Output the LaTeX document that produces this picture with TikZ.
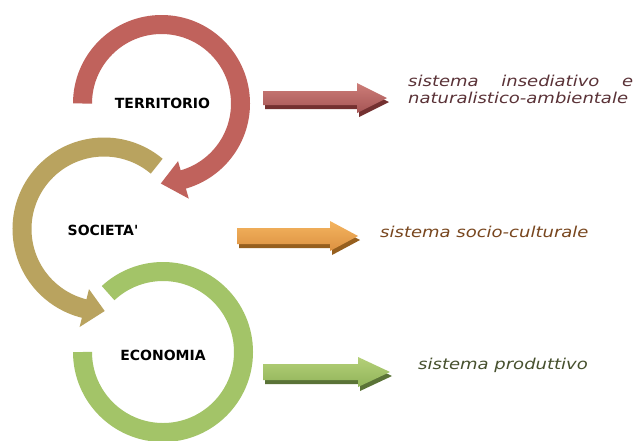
\documentclass[tikz,border=0pt]{standalone}
\usepackage{fontspec}
\setmainfont{DejaVu Sans}
\usetikzlibrary{calc}
\definecolor{arcred}{RGB}{192,98,92}
\definecolor{arcolive}{RGB}{185,163,95}
\definecolor{arcgreen}{RGB}{163,196,104}
\definecolor{arlred}{RGB}{205,125,120}
\definecolor{armred}{RGB}{165,85,85}
\definecolor{arsred}{RGB}{115,48,48}
\definecolor{arlor}{RGB}{244,180,95}
\definecolor{armor}{RGB}{220,145,65}
\definecolor{arsor}{RGB}{150,95,30}
\definecolor{arlgr}{RGB}{180,208,120}
\definecolor{armgr}{RGB}{145,180,90}
\definecolor{arsgr}{RGB}{90,115,55}
\definecolor{txred}{RGB}{90,50,55}
\definecolor{txor}{RGB}{120,70,30}
\definecolor{txgr}{RGB}{70,80,45}
\tikzset{
  ring/.style={line width=19pt, line cap=butt},
  circlabel/.style={font=\bfseries\fontsize{14}{16}\selectfont, inner sep=0pt, anchor=center},
  syslabel/.style={font=\itshape\fontsize{15}{18}\selectfont, inner sep=0pt, anchor=base west, xscale=1.2}
}
\newcommand{\blockarr}[9]{%
  \fill[#9] ($(#1,#4-#5)+(2,4)$) -- ($(#2,#4-#5)+(2,4)$) -- ($(#2,#4-#6)+(2,4)$) -- ($(#3,#4)+(2,4)$)
     -- ($(#2,#4+#6)+(2,4)$) -- ($(#2,#4+#5)+(2,4)$) -- ($(#1,#4+#5)+(2,4)$) -- cycle;
  \shade[top color=#7, bottom color=#8] (#1,#4-#5) -- (#2,#4-#5) -- (#2,#4-#6) -- (#3,#4)
     -- (#2,#4+#6) -- (#2,#4+#5) -- (#1,#4+#5) -- cycle;
}
\begin{document}
\begin{tikzpicture}[x=1pt,y=-1pt]
\useasboundingbox[fill=white] (0,0) rectangle (636,440);
\coordinate (rc) at (161.5,103.5);
\coordinate (oc) at (104,229);
\coordinate (gc) at (163,352);
\draw[ring, arcgreen] ($(gc)+(180:80.5)$) arc[start angle=180, end angle=-133, radius=80.5];
\draw[ring, arcolive] ($(oc)+(-50:82)$) arc[start angle=-50, end angle=-258, radius=82];
\fill[arcolive] ($(oc)+(-256:62)$) -- ($(oc)+(-270.5:82)$) -- ($(oc)+(-256:101)$) -- cycle;
\draw[ring, arcred] ($(rc)+(180:79)$) arc[start angle=180, end angle=436, radius=79];
\fill[arcred] ($(rc)+(434:60)$) -- ($(rc)+(450.5:80)$) -- ($(rc)+(434:99)$) -- cycle;
\node[circlabel] (ter) at (162.5,103) {TERRITORIO};
\node[circlabel] (soc) at (103,230) {SOCIETA\textquotesingle};
\node[circlabel] (eco) at (163,355) {ECONOMIA};
\blockarr{263}{357}{387}{98}{7}{15}{arlred}{armred}{arsred}
\blockarr{237}{330}{358}{236}{8}{15}{arlor}{armor}{arsor}
\blockarr{263}{358}{390}{372}{8}{15}{arlgr}{armgr}{arsgr}
\node[syslabel, text=txred] (s1a) at (408,86) {\makebox[187.5pt][s]{sistema insediativo e}};
\node[syslabel, text=txred] (s1b) at (408,103) {naturalistico-ambientale};
\node[syslabel, text=txor] (s2) at (380,237) {sistema socio-culturale};
\node[syslabel, text=txgr] (s3) at (418,369) {sistema produttivo};
\end{tikzpicture}
\end{document}
